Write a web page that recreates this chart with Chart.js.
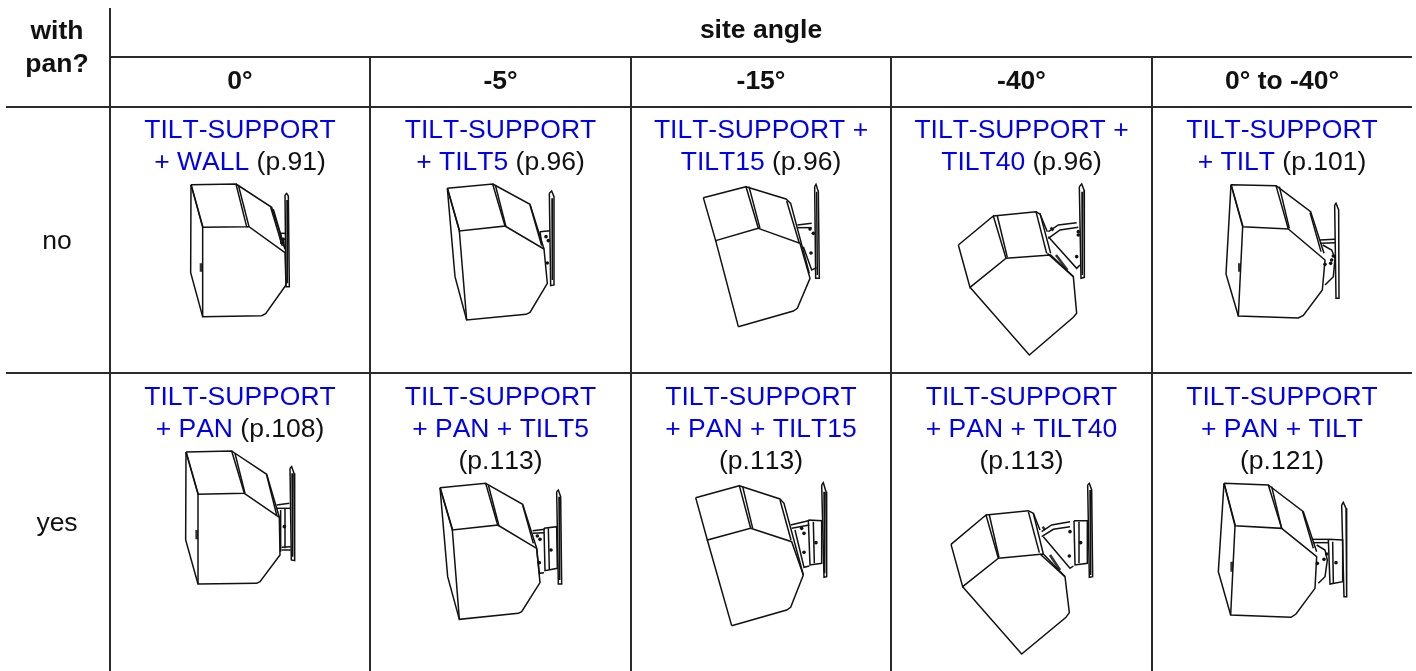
<!DOCTYPE html>
<html>
<head>
<meta charset="utf-8">
<title>Mounting options by site angle</title>
<script src="https://cdn.jsdelivr.net/npm/chart.js@4"></script>
<style>
    html, body { margin: 0; padding: 0; background: #fff; }
    canvas { display: block; }
</style>
</head>
<body>
<canvas id="mountChart" width="1416" height="671"></canvas>
<script>
// table text
const cornerLabel = ['with', 'pan?'];
const groupLabel = 'site angle';
const siteAngles = ['0°', '-5°', '-15°', '-40°', '0° to -40°'];
const panOptions = ['no', 'yes'];

// each text line is [blue part, black part]
const noPanLinks = [
    [['TILT-SUPPORT', ''], ['+ WALL', ' (p.91)']],
    [['TILT-SUPPORT', ''], ['+ TILT5', ' (p.96)']],
    [['TILT-SUPPORT +', ''], ['TILT15', ' (p.96)']],
    [['TILT-SUPPORT +', ''], ['TILT40', ' (p.96)']],
    [['TILT-SUPPORT', ''], ['+ TILT', ' (p.101)']]
];
const panLinks = [
    [['TILT-SUPPORT', ''], ['+ PAN', ' (p.108)']],
    [['TILT-SUPPORT', ''], ['+ PAN + TILT5', ''], ['', '(p.113)']],
    [['TILT-SUPPORT', ''], ['+ PAN + TILT15', ''], ['', '(p.113)']],
    [['TILT-SUPPORT', ''], ['+ PAN + TILT40', ''], ['', '(p.113)']],
    [['TILT-SUPPORT', ''], ['+ PAN + TILT', ''], ['', '(p.121)']]
];

// table rules
const columnEdges = [110, 370, 631, 891, 1152];
const headerRules = [57, 107];
const rowRule = 373;

const wallLines = [
    [123,44,258,42,290,170,158,172,123,44], [123,44,122,308,158,440],
    [158,172,158,440,335,437,347,431,408,345,405,248,297,170,290,170],
    [258,42,365,112,405,235], [265,45,297,170], [362,112,397,228], [370,118,405,238],
    [405,75,410,70,415,78,418,350,408,350,405,75], [411,90,412,340],
    [390,190,405,190], [390,190,393,222], [124,46,159,172]
];
const wallHeavy = [[153,280,153,305]];
const wallBolts = [[400,208], [399,218]];

const tilt5Lines = [
    [82,40,218,27,255,153,118,168,82,40], [82,40,105,305,140,435],
    [118,168,140,435,318,418,330,412,382,325,372,222,255,153],
    [218,27,330,88,372,222], [226,30,258,155], [330,90,365,212],
    [388,55,395,48,402,65,402,330,392,332,388,55], [396,70,397,315],
    [360,170,390,167], [360,170,365,205], [83,42,119,168]
];
const tilt5Heavy = [];
const tilt5Bolts = [[378,185], [385,197], [382,264]];

const tilt15Lines = [
    [70,68,198,35,235,160,107,197,70,68], [107,197,175,455],
    [175,455,340,408,352,400,390,310,360,205,235,160],
    [198,35,318,72,332,85,388,295], [207,35,240,160], [320,78,358,205],
    [404,35,408,28,415,50,418,310,407,310,404,35], [410,50,412,300],
    [352,150,395,145], [352,158,395,158], [370,215,395,285,410,278]
];
const tilt15Heavy = [];
const tilt15Bolts = [[400,175], [393,234], [390,162]];

const tilt40Lines = [
    [85,225,190,138,228,265,120,352,85,225],
    [120,352,298,555,430,442,440,430,430,320,362,255,228,265],
    [190,138,318,125,330,132,352,185], [202,138,232,262],
    [318,125,350,250], [330,130,362,250], [352,250,430,320],
    [355,185,385,165,440,158], [355,205,390,180,445,172], [355,200,440,295,450,285],
    [448,50,455,42,462,60,463,322,453,325,448,50], [456,65,457,315]
];
const tilt40Heavy = [[378,255,412,300], [362,172,370,182]];
const tilt40Bolts = [[445,185], [445,195], [440,260]];

const tiltLines = [
    [123,44,258,47,295,177,158,170,123,44], [123,44,108,312,145,438],
    [158,170,145,438,325,444,340,436,397,360,405,270,295,177],
    [258,47,362,125,402,250], [268,50,298,175], [360,128,393,245],
    [434,105,438,100,446,120,447,385,438,385,434,105],
    [390,210,435,208], [392,220,435,218], [398,225,425,240,435,265,430,320,405,345],
    [124,46,159,170]
];
const tiltHeavy = [[148,280,148,305]];
const tiltBolts = [[430,258], [425,270], [422,280], [405,283]];

const panLines = [
    [168,36,305,33,343,160,204,163,168,36], [168,36,167,300,204,432],
    [204,163,204,432,380,430,390,425,450,345,448,232,343,160],
    [305,33,410,103,448,232], [315,40,345,160], [410,105,440,225],
    [480,85,485,80,492,100,494,362,484,360,480,85], [486,100,488,350],
    [440,195,478,190], [440,205,480,205], [452,210,452,335], [465,205,465,325],
    [455,322,482,320], [455,330,482,330], [169,38,205,163]
];
const panHeavy = [[200,270,200,298]];
const panBolts = [[463,260]];

const panTilt5Lines = [
    [60,83,197,70,233,195,97,210,60,83], [60,83,83,350,118,478],
    [97,210,118,478,295,460,305,455,360,368,350,265,233,195],
    [197,70,308,133,350,265], [205,75,237,198], [308,135,340,250],
    [410,95,415,90,422,110,425,372,415,372,410,95], [417,110,419,360],
    [338,212,375,208], [338,220,372,218],
    [372,205,410,200,412,325,375,332,372,205], [385,205,388,330],
    [350,265,358,340,372,338], [61,85,98,210]
];
const panTilt5Heavy = [];
const panTilt5Bolts = [[360,238], [352,228], [358,308], [393,270]];

const panTilt15Lines = [
    [47,113,178,77,212,205,82,240,47,113], [82,240,155,497],
    [155,497,320,450,332,442,370,345,335,245,212,205],
    [178,77,300,117,312,130,370,345], [188,80,218,205], [300,120,333,240],
    [425,75,430,68,438,95,440,350,432,352,425,75], [432,95,434,340],
    [332,195,385,182], [335,205,388,195],
    [385,180,425,182,425,310,390,315,385,180], [400,185,403,310],
    [345,210,372,322,388,318]
];
const panTilt15Heavy = [];
const panTilt15Bolts = [[365,205], [372,220], [372,277], [408,248]];

const panTilt40Lines = [
    [63,193,168,105,205,235,98,320,63,193],
    [98,320,275,522,408,412,418,398,405,290,340,222,205,235],
    [168,105,295,92,310,100,330,150], [178,105,207,232],
    [295,95,328,218], [310,100,340,222], [330,222,405,290],
    [335,155,365,135,420,125], [335,170,370,148,420,140], [340,170,420,265,430,258],
    [432,122,472,122,472,250,435,255,432,122], [447,125,447,250],
    [473,15,478,10,485,30,488,290,478,292,473,15], [480,30,482,285]
];
const panTilt40Heavy = [[360,225,390,270], [338,140,345,150]];
const panTilt40Bolts = [[420,155], [418,228], [452,188]];

const panTiltLines = [
    [102,70,235,75,275,205,135,197,102,70], [102,70,85,335,122,465],
    [135,197,122,465,303,472,318,462,375,385,380,290,275,205],
    [235,75,340,155,380,275], [245,80,275,205], [338,155,370,265],
    [365,238,415,238], [368,248,415,248], [380,255,405,270,412,300,405,350,385,370],
    [415,238,458,240,458,365,420,372,415,238], [428,245,430,370],
    [455,135,460,127,468,145,470,410,462,410,455,135], [103,72,136,197]
];
const panTiltHeavy = [[125,305,125,335]];
const panTiltBolts = [[410,282], [402,298], [382,310], [438,308]];

// where each crop sits on the page
const drawings = [
    { origin: [150, 170], lines: wallLines, heavy: wallHeavy, bolts: wallBolts },
    { origin: [420, 175], lines: tilt5Lines, heavy: tilt5Heavy, bolts: tilt5Bolts },
    { origin: [680, 175], lines: tilt15Lines, heavy: tilt15Heavy, bolts: tilt15Bolts },
    { origin: [930, 170], lines: tilt40Lines, heavy: tilt40Heavy, bolts: tilt40Bolts },
    { origin: [1190, 170], lines: tiltLines, heavy: tiltHeavy, bolts: tiltBolts },
    { origin: [130, 440], lines: panLines, heavy: panHeavy, bolts: panBolts },
    { origin: [420, 460], lines: panTilt5Lines, heavy: panTilt5Heavy, bolts: panTilt5Bolts },
    { origin: [680, 460], lines: panTilt15Lines, heavy: panTilt15Heavy, bolts: panTilt15Bolts },
    { origin: [930, 480], lines: panTilt40Lines, heavy: panTilt40Heavy, bolts: panTilt40Bolts },
    { origin: [1190, 460], lines: panTiltLines, heavy: panTiltHeavy, bolts: panTiltBolts }
];

const ruleColor = '#2b2b2b';
const inkColor = '#111111';
const linkColor = '#0000f0';
const textColor = '#111111';
const fontFamily = '"Liberation Sans", Arial, sans-serif';
const fontSize = 26.5;
const lineGap = 32;

function ruleDataset(x1, y1, x2, y2) {
    return {
        data: [{ x: x1, y: y1 }, { x: x2, y: y2 }],
        showLine: true, pointRadius: 0, borderColor: ruleColor, borderWidth: 2
    };
}

function buildDatasets() {
    const sets = [];
    // rules
    sets.push(ruleDataset(columnEdges[0], 8, columnEdges[0], 671));
    columnEdges.slice(1).forEach(x => sets.push(ruleDataset(x, headerRules[0], x, 671)));
    sets.push(ruleDataset(columnEdges[0], headerRules[0], 1412, headerRules[0]));
    sets.push(ruleDataset(6, headerRules[1], 1412, headerRules[1]));
    sets.push(ruleDataset(6, rowRule, 1412, rowRule));

    // speakers
    drawings.forEach(d => {
        const toPoints = flat => {
            const pts = [];
            for (let i = 0; i < flat.length; i += 2) {
                pts.push({ x: d.origin[0] + flat[i] / 3, y: d.origin[1] + flat[i + 1] / 3 });
            }
            return pts;
        };
        d.lines.forEach(l => sets.push({
            data: toPoints(l), showLine: true, pointRadius: 0, borderColor: inkColor, borderWidth: 1.5
        }));
        d.heavy.forEach(l => sets.push({
            data: toPoints(l), showLine: true, pointRadius: 0, borderColor: '#333333', borderWidth: 2.6
        }));
        sets.push({
            data: toPoints(d.bolts.flat()), showLine: false, pointRadius: 1.8,
            pointBackgroundColor: inkColor, pointBorderWidth: 0
        });
    });
    return sets;
}

// table text goes through the same scales as the rules
const tableText = {
    id: 'tableText',
    afterDatasetsDraw(chart) {
        const { ctx, scales: { x, y } } = chart;
        ctx.save();
        ctx.fontKerning = 'none';
        const put = (str, cx, baseline, font, color) => {
            ctx.font = font;
            ctx.fillStyle = color;
            ctx.textAlign = 'center';
            ctx.textBaseline = 'alphabetic';
            ctx.fillText(str, x.getPixelForValue(cx), y.getPixelForValue(baseline));
        };
        // one centred line with a blue and a black part
        const putMixed = (parts, cx, baseline) => {
            ctx.font = fontSize + 'px ' + fontFamily;
            ctx.textAlign = 'left';
            ctx.textBaseline = 'alphabetic';
            const total = ctx.measureText(parts[0] + parts[1]).width;
            const left = x.getPixelForValue(cx) - total / 2;
            const py = y.getPixelForValue(baseline);
            ctx.fillStyle = linkColor;
            ctx.fillText(parts[0], left, py);
            ctx.fillStyle = textColor;
            ctx.fillText(parts[1], left + ctx.measureText(parts[0]).width, py);
        };

        const bold = 'bold ' + fontSize + 'px ' + fontFamily;
        const plain = fontSize + 'px ' + fontFamily;
        const centers = columnEdges.map((e, i) => (e + (columnEdges[i + 1] || 1412)) / 2);

        put(cornerLabel[0], 57, 39, bold, textColor);
        put(cornerLabel[1], 57, 72, bold, textColor);
        put(groupLabel, 761, 38, bold, textColor);
        siteAngles.forEach((a, i) => put(a, centers[i], 89, bold, textColor));
        put(panOptions[0], 57, 249, plain, textColor);
        put(panOptions[1], 57, 531, plain, textColor);

        noPanLinks.forEach((cell, i) => cell.forEach((line, j) => putMixed(line, centers[i], 138 + j * lineGap)));
        panLinks.forEach((cell, i) => cell.forEach((line, j) => putMixed(line, centers[i], 405 + j * lineGap)));
        ctx.restore();
    }
};

new Chart(document.getElementById('mountChart'), {
    type: 'scatter',
    data: { datasets: buildDatasets() },
    plugins: [tableText],
    options: {
        responsive: false,
        animation: false,
        layout: { padding: 0, autoPadding: false },
        plugins: { legend: { display: false }, tooltip: { enabled: false } },
        scales: {
            x: { type: 'linear', min: 0, max: 1416, display: false },
            y: { type: 'linear', min: 0, max: 671, reverse: true, display: false }
        }
    }
});
</script>
</body>
</html>
